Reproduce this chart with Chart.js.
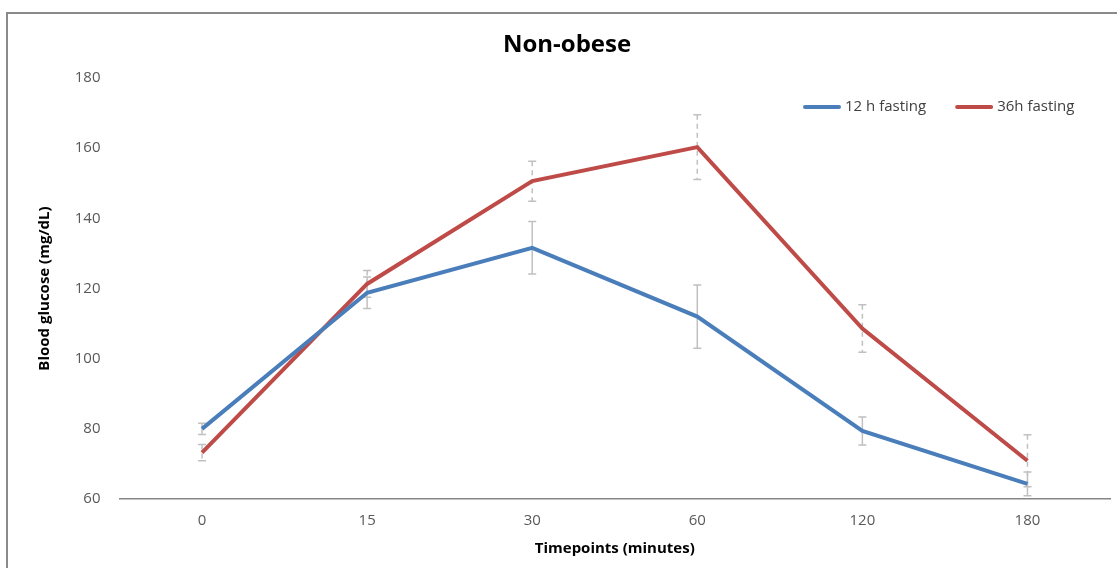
<!DOCTYPE html>
<html>
<head>
<meta charset="utf-8">
<script src="https://cdn.jsdelivr.net/npm/chart.js@4.4.1/dist/chart.umd.min.js"></script>
<style>
  html, body { margin: 0; padding: 0; background: #fff; }
  #wrap { position: relative; width: 1117px; height: 568px; overflow: hidden; }
  #frame { position: absolute; left: 6px; top: 12px; width: 1200px; height: 700px;
           border-left: 2px solid #8a8a8a; border-top: 2px solid #8a8a8a; pointer-events: none; }
  #c { position: absolute; left: 0; top: 0; }
</style>
</head>
<body>
<div id="wrap">
  <canvas id="c" width="1117" height="568"></canvas>
  <div id="frame"></div>
</div>
<script>
const timepoints = ['0', '15', '30', '60', '120', '180']
const fasting12 = [80, 118.8, 131.6, 112, 79.4, 64.3]
const fasting36 = [73.2, 121.3, 150.6, 160.3, 108.6, 70.9]
const err12 = [1.6, 4.5, 7.5, 9, 4, 3.4]
const err36 = [2.3, 3.8, 5.7, 9.2, 6.8, 7.4]

const FONT = "'Open Sans', sans-serif"

// error bars drawn under the lines, from the y scale
const errorBars = {
    id: 'errorBars',
    beforeDatasetsDraw(chart) {
        const ctx = chart.ctx
        const y = chart.scales.y
        chart.data.datasets.forEach((ds, i) => {
            const meta = chart.getDatasetMeta(i)
            ctx.save()
            ctx.strokeStyle = '#c0c0c0'
            ctx.lineWidth = 1.5
            meta.data.forEach((pt, j) => {
                const v = ds.data[j], e = ds.errors[j]
                const top = y.getPixelForValue(v + e)
                const bot = y.getPixelForValue(v - e)
                ctx.setLineDash(ds.errDash)
                ctx.beginPath()
                ctx.moveTo(pt.x, top)
                ctx.lineTo(pt.x, bot)
                ctx.stroke()
                ctx.setLineDash([])
                ctx.beginPath()
                ctx.moveTo(pt.x - 4, top); ctx.lineTo(pt.x + 4, top)
                ctx.moveTo(pt.x - 4, bot); ctx.lineTo(pt.x + 4, bot)
                ctx.stroke()
            })
            ctx.restore()
        })
    }
}

// legend inside the plot, top right, in one row
const rowLegend = {
    id: 'rowLegend',
    afterDraw(chart) {
        const ctx = chart.ctx
        ctx.save()
        ctx.font = "15px " + FONT
        ctx.textBaseline = 'middle'
        let x = 803
        const y = 107
        chart.data.datasets.forEach((ds) => {
            ctx.strokeStyle = ds.borderColor
            ctx.lineWidth = 4
            ctx.lineCap = 'round'
            ctx.beginPath()
            ctx.moveTo(x + 2, y)
            ctx.lineTo(x + 36, y)
            ctx.stroke()
            ctx.fillStyle = '#404040'
            ctx.fillText(ds.label, x + 42, y)
            x += 42 + ctx.measureText(ds.label).width + 29
        })
        ctx.restore()
    }
}

const ctx = document.getElementById('c').getContext('2d')
const myChart = new Chart(ctx, {
    type: 'line',
    data: {
        labels: timepoints,
        datasets: [{
            label: '12 h fasting',
            data: fasting12,
            errors: err12,
            errDash: [],
            borderColor: '#4a7ebb',
            backgroundColor: '#4a7ebb',
            borderWidth: 4,
            pointRadius: 0,
            tension: 0
        }, {
            label: '36h fasting',
            data: fasting36,
            errors: err36,
            errDash: [5, 4],
            borderColor: '#be4b48',
            backgroundColor: '#be4b48',
            borderWidth: 4,
            pointRadius: 0,
            tension: 0
        }]
    },
    options: {
        responsive: false,
        animation: false,
        layout: { padding: { left: 24, right: 7, top: 0, bottom: 0 } },
        plugins: {
            tooltip: { enabled: false },
            legend: { display: false },
            title: {
                display: true,
                text: 'Non-obese',
                color: '#000',
                font: { family: FONT, size: 24, weight: 'bold', lineHeight: 1.2 },
                padding: { top: 30.6, bottom: 18.6 }
            }
        },
        scales: {
            x: {
                offset: true,
                grid: { display: false, drawTicks: false, tickLength: 0, offset: true },
                border: { display: true, color: '#868686', width: 1.5 },
                ticks: { color: '#595959', padding: 13, font: { family: FONT, size: 15 } },
                title: {
                    display: true,
                    text: 'Timepoints (minutes)',
                    color: '#000',
                    font: { family: FONT, size: 15, weight: 'bold', lineHeight: 1.2 },
                    padding: { top: 0, bottom: 10 }
                },
                afterFit(scale) { scale.height = 69 }
            },
            y: {
                min: 60,
                max: 180,
                grid: { display: false, drawTicks: false, tickLength: 0 },
                border: { display: false },
                ticks: { stepSize: 20, color: '#595959', padding: 19, font: { family: FONT, size: 15 } },
                title: {
                    display: true,
                    text: 'Blood glucose (mg/dL)',
                    color: '#000',
                    font: { family: FONT, size: 15, weight: 'bold', lineHeight: 1.2 },
                    padding: { top: 12, bottom: 0 }
                },
                afterFit(scale) { scale.width = 95.5 }
            }
        }
    },
    plugins: [errorBars, rowLegend]
});
</script>
</body>
</html>
